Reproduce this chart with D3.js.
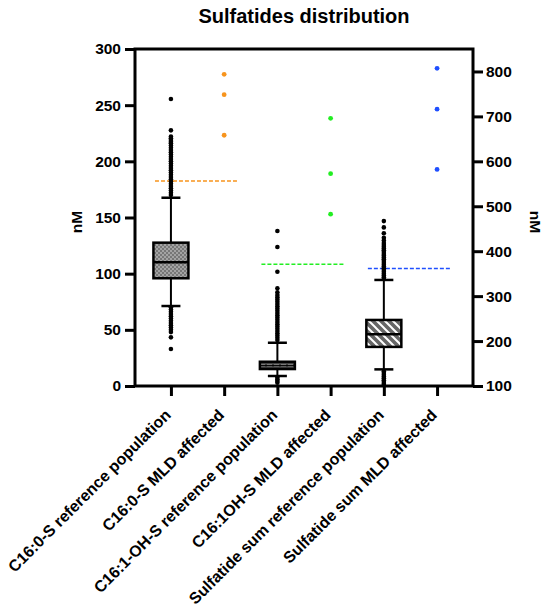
<!DOCTYPE html>
<html>
<head>
<meta charset="utf-8">
<script src="https://cdn.jsdelivr.net/npm/d3@7"></script>
<style>
  body { margin: 0; background: #fff; }
  text { font-family: "Liberation Sans", Arial, sans-serif; font-weight: bold; }
</style>
</head>
<body>
<div id="chart"></div>
<script>
// categories on the x axis
const categories = [
  "C16:0-S reference population",
  "C16:0-S MLD affected",
  "C16:1-OH-S reference population",
  "C16:1OH-S MLD affected",
  "Sulfatide sum reference population",
  "Sulfatide sum MLD affected"
];

// box plots of the reference populations
const refCategories = [categories[0], categories[2], categories[4]];
const refAxis = ["left", "left", "right"];
const refPattern = ["checker", "hdash", "diag"];
const q1 = [95.9, 15.1, 187];
const medians = [110.1, 18.2, 215];
const q3 = [127.6, 21.6, 247];
const whiskerLow = [71.2, 8.9, 137];
const whiskerHigh = [167.6, 38.5, 336];

// outliers of each reference population
const c160Outliers = [255.5, 227.6, 222, 220.5, 219, 217.5, 216, 214, 212, 210, 208, 206, 204, 202, 200,
  198, 196, 194, 192, 190, 188, 186, 184, 182, 180, 178, 176, 174, 172, 170,
  70, 68, 66, 64, 62, 60, 58, 56, 54, 52, 50, 48, 43.3, 33];
const c161Outliers = [138, 123.7, 101.7, 87, 83.5, 81, 79, 77, 75, 73, 71, 69, 67, 65, 63, 61, 59, 57,
  55, 53, 51, 49, 47, 45, 43, 41, 7.5, 6, 4.5, 3];
const sumOutliers = [467, 453, 440, 430, 424, 418, 414, 410, 406, 402, 398, 394, 390, 386, 382, 378,
  374, 370, 366, 362, 358, 354, 350, 346, 342, 338,
  133, 129, 125, 121, 117, 113, 109, 105, 102];
const refOutliers = [c160Outliers, c161Outliers, sumOutliers];

// MLD affected patients
const affCategories = [categories[1], categories[3], categories[5]];
const c160Affected = [277.5, 259.3, 223.2];
const c161Affected = [238.3, 189, 153];
const sumAffected = [807, 716, 582];
const affValues = [c160Affected, c161Affected, sumAffected];
const affColors = ["#f7941d", "#22ee22", "#1f4fff"];

// cut-off lines
const cutoffs = [182.5, 108.3, 361.6];

const leftTicks = [0, 50, 100, 150, 200, 250, 300];
const rightTicks = [100, 200, 300, 400, 500, 600, 700, 800];

const width = 550, height = 611;
const margin = { top: 49, right: 77, bottom: 225, left: 135 };

const svg = d3.select("#chart").append("svg")
  .attr("width", width)
  .attr("height", height);

const x = d3.scalePoint()
  .domain(categories)
  .range([margin.left, width - margin.right])
  .padding(0.675);

const yLeft = d3.scaleLinear().domain([0, 300]).range([height - margin.bottom, margin.top]);
const yRight = d3.scaleLinear().domain([100, 850]).range([height - margin.bottom, margin.top]);
const yOf = side => side === "left" ? yLeft : yRight;

// fill patterns
const defs = svg.append("defs");
let p = defs.append("pattern").attr("id", "checker")
  .attr("patternUnits", "userSpaceOnUse").attr("width", 4).attr("height", 4);
p.append("rect").attr("width", 4).attr("height", 4).attr("fill", "#777");
p.append("rect").attr("width", 2).attr("height", 2).attr("fill", "#a3a3a3");
p.append("rect").attr("x", 2).attr("y", 2).attr("width", 2).attr("height", 2).attr("fill", "#a3a3a3");

p = defs.append("pattern").attr("id", "hdash")
  .attr("patternUnits", "userSpaceOnUse").attr("width", 7).attr("height", 3.6);
p.append("rect").attr("width", 7).attr("height", 3.6).attr("fill", "#444");
p.append("rect").attr("x", 1).attr("y", 1.3).attr("width", 5).attr("height", 1).attr("fill", "#fff");

p = defs.append("pattern").attr("id", "diag")
  .attr("patternUnits", "userSpaceOnUse").attr("width", 8).attr("height", 8);
p.append("rect").attr("width", 8).attr("height", 8).attr("fill", "#666");
p.append("path").attr("d", "M0,0L8,8M-4,4L4,12M4,-4L12,4")
  .attr("stroke", "#fff").attr("stroke-width", 2);

const plotH = height - margin.bottom;
const plotL = margin.left, plotR = width - margin.right;

// cut-off dashed lines
const step = x.step();
svg.selectAll(".cutoff").data(cutoffs).enter().append("line")
  .attr("x1", (d, i) => x(refCategories[i]) - step * 0.3)
  .attr("x2", (d, i) => x(affCategories[i]) + step * 0.25)
  .attr("y1", (d, i) => yOf(refAxis[i])(d))
  .attr("y2", (d, i) => yOf(refAxis[i])(d))
  .attr("stroke", (d, i) => affColors[i])
  .attr("stroke-width", 1.5)
  .attr("stroke-dasharray", "4,2");

// box plots
const boxW = 35, capW = 19;
refCategories.forEach((cat, i) => {
  const y = yOf(refAxis[i]);
  const cx = x(cat);
  const g = svg.append("g");
  g.append("line").attr("x1", cx).attr("x2", cx)
    .attr("y1", y(whiskerHigh[i])).attr("y2", y(whiskerLow[i]))
    .attr("stroke", "#000").attr("stroke-width", 2);
  [whiskerHigh[i], whiskerLow[i]].forEach(v => {
    g.append("line").attr("x1", cx - capW / 2).attr("x2", cx + capW / 2)
      .attr("y1", y(v)).attr("y2", y(v))
      .attr("stroke", "#000").attr("stroke-width", 2.5);
  });
  g.selectAll(".out").data(refOutliers[i]).enter().append("circle")
    .attr("cx", cx).attr("cy", d => y(d)).attr("r", 2.3).attr("fill", "#000");
  g.append("rect")
    .attr("x", cx - boxW / 2).attr("width", boxW)
    .attr("y", y(q3[i])).attr("height", y(q1[i]) - y(q3[i]))
    .attr("fill", `url(#${refPattern[i]})`)
    .attr("stroke", "#000").attr("stroke-width", 2.5);
  g.append("line").attr("x1", cx - boxW / 2).attr("x2", cx + boxW / 2)
    .attr("y1", y(medians[i])).attr("y2", y(medians[i]))
    .attr("stroke", "#000").attr("stroke-width", i === 1 ? 1 : 2.5);
});

// affected points
affCategories.forEach((cat, i) => {
  const y = yOf(refAxis[i]);
  svg.selectAll(".aff" + i).data(affValues[i]).enter().append("circle")
    .attr("cx", x(cat)).attr("cy", d => y(d)).attr("r", 2.4)
    .attr("fill", affColors[i]);
});

// axes
const axL = svg.append("g").attr("transform", `translate(${plotL},0)`)
  .call(d3.axisLeft(yLeft).tickValues(leftTicks).tickSize(10).tickPadding(4));
const axR = svg.append("g").attr("transform", `translate(${plotR},0)`)
  .call(d3.axisRight(yRight).tickValues(rightTicks).tickSize(10).tickPadding(3));
const axB = svg.append("g").attr("transform", `translate(0,${plotH})`)
  .call(d3.axisBottom(x).tickSize(10).tickFormat(""));

[axL, axR, axB].forEach(a => {
  a.select(".domain").remove();
  a.selectAll(".tick line").attr("stroke", "#000").attr("stroke-width", 3);
  a.selectAll(".tick text").attr("font-size", 15.5).attr("fill", "#000")
    .style("font-family", "'Liberation Sans', Arial, sans-serif").style("font-weight", "bold");
});

// frame
svg.append("rect")
  .attr("x", plotL).attr("y", margin.top)
  .attr("width", plotR - plotL).attr("height", plotH - margin.top)
  .attr("fill", "none").attr("stroke", "#000").attr("stroke-width", 3);

// category labels
svg.selectAll(".cat").data(categories).enter().append("text")
  .attr("transform", d => `translate(${x(d) - 3},${plotH + 26}) rotate(-45)`)
  .attr("text-anchor", "end")
  .attr("dy", "0.35em")
  .attr("font-size", 16)
  .text(d => d);

// axis titles
svg.append("text")
  .attr("transform", `translate(82,222) rotate(-90)`)
  .attr("text-anchor", "middle").attr("font-size", 15.5).text("nM");
svg.append("text")
  .attr("transform", `translate(530,222) rotate(90)`)
  .attr("text-anchor", "middle").attr("font-size", 15.5).text("nM");

// title
svg.append("text")
  .attr("x", (plotL + plotR) / 2).attr("y", 23)
  .attr("text-anchor", "middle").attr("font-size", 20)
  .text("Sulfatides distribution");
</script>
</body>
</html>
